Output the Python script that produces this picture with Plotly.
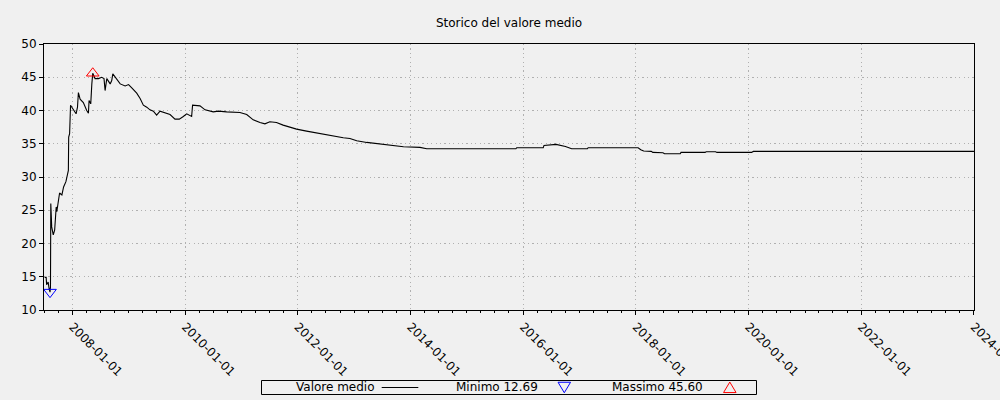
import numpy as np
import plotly.graph_objects as go

# ---------------- data ----------------
dates = [
    "2007-07-05", "2007-07-15", "2007-07-18", "2007-07-28", "2007-08-03", "2007-08-09",
    "2007-08-12", "2007-08-14", "2007-08-20", "2007-08-30", "2007-09-08", "2007-09-12",
    "2007-09-18", "2007-09-22", "2007-10-04", "2007-10-10", "2007-10-25", "2007-11-05",
    "2007-11-20", "2007-12-01", "2007-12-06", "2007-12-08", "2007-12-14", "2007-12-20",
    "2008-01-05", "2008-01-25", "2008-02-03", "2008-02-09", "2008-02-20", "2008-03-12",
    "2008-04-03", "2008-04-14", "2008-04-18", "2008-04-29", "2008-05-06", "2008-05-12",
    "2008-05-27", "2008-06-18", "2008-07-09", "2008-07-24", "2008-07-31", "2008-08-11",
    "2008-09-02", "2008-09-12", "2008-09-19", "2008-10-04", "2008-11-06", "2008-12-08",
    "2008-12-30", "2009-01-20", "2009-02-21", "2009-03-15", "2009-04-05", "2009-04-27",
    "2009-05-18", "2009-06-09", "2009-06-30", "2009-07-22", "2009-08-23", "2009-09-25",
    "2009-10-27", "2009-11-24", "2009-12-20", "2010-01-11", "2010-02-12", "2010-02-18",
    "2010-04-07", "2010-05-10", "2010-07-02", "2010-08-04", "2010-09-27", "2010-12-22",
    "2011-02-04", "2011-03-18", "2011-05-01", "2011-06-02", "2011-07-04", "2011-08-16",
    "2011-09-28", "2011-11-10", "2011-12-24", "2012-02-27", "2012-04-10", "2012-06-14",
    "2012-08-18", "2012-10-22", "2012-12-04", "2013-01-17", "2013-03-23", "2013-05-27",
    "2013-07-31", "2013-10-03", "2013-11-16", "2014-03-03", "2014-04-16", "2015-11-15",
    "2015-11-20", "2016-05-10", "2016-05-15", "2016-08-01", "2016-09-10", "2016-10-01",
    "2016-11-10", "2017-02-20", "2017-02-25", "2018-01-15", "2018-02-01", "2018-02-20",
    "2018-04-10", "2018-04-20", "2018-06-25", "2018-07-05", "2018-10-15", "2018-10-20",
    "2019-03-25", "2019-04-01", "2019-06-01", "2019-06-10", "2020-01-20", "2020-02-01",
    "2024-01-01",
]
valori = [
    14.9, 14.9, 13.8, 14.2, 13.2, 12.69,
    13.5, 26.0, 22.5, 21.3, 22.0, 24.5,
    25.5, 24.8, 26.5, 27.6, 27.3, 28.5,
    29.3, 30.6, 31.0, 36.0, 36.5, 40.8,
    40.2, 39.5, 40.5, 42.7, 41.7, 41.2,
    40.0, 39.6, 41.5, 41.0, 44.0, 45.60,
    44.8, 44.8, 45.0, 44.8, 43.0, 44.8,
    44.0, 44.5, 45.5, 45.0, 44.0, 43.7,
    43.9, 43.4, 42.6, 41.8, 40.8, 40.5,
    40.1, 39.9, 39.3, 39.9, 39.7, 39.4,
    38.7, 38.7, 39.1, 39.5, 39.1, 40.8,
    40.7, 40.1, 39.8, 39.9, 39.8, 39.7,
    39.4, 38.6, 38.2, 38.0, 38.3, 38.2,
    37.8, 37.5, 37.2, 36.9, 36.7, 36.5,
    36.2, 35.9, 35.8, 35.45, 35.2, 35.0,
    34.85, 34.7, 34.55, 34.45, 34.25, 34.25,
    34.4, 34.4, 34.75, 34.9, 34.75, 34.6,
    34.25, 34.25, 34.4, 34.4, 34.1, 33.9,
    33.85, 33.7, 33.65, 33.5, 33.5, 33.7,
    33.7, 33.8, 33.8, 33.7, 33.7, 33.85,
    33.85,
]
y_ticks = [10, 15, 20, 25, 30, 35, 40, 45, 50]
x_ticks = ["2008-01-01", "2010-01-01", "2012-01-01", "2014-01-01", "2016-01-01",
           "2018-01-01", "2020-01-01", "2022-01-01", "2024-01-01"]
x_range = ["2007-07-01", "2024-01-01 02:00"]
title = "Storico del valore medio"
serie_nome = "Valore medio"

arr = np.array(valori)
i_min = int(np.argmin(arr))
i_max = int(np.argmax(arr))

# ---------------- figure ----------------
W, H = 1000, 400
L, R, T, B = 44, 974, 44, 310
BG = "#f0f0f0"
FONT = "DejaVu Sans"
GRID = "#b0b0b0"


def px(x):
    return (x - L) / (R - L)


def py(y):
    return (B - y) / (B - T)


fig = go.Figure()
fig.add_trace(go.Scatter(x=dates, y=valori, mode="lines", name=serie_nome,
                         line=dict(color="black", width=1.1), showlegend=False))
fig.add_trace(go.Scatter(x=[dates[i_min]], y=[valori[i_min]], mode="markers",
                         name=f"Minimo {valori[i_min]:.2f}", showlegend=False,
                         marker=dict(symbol="triangle-down-open", size=11,
                                     color="blue", line=dict(width=1, color="blue"))))
fig.add_trace(go.Scatter(x=[dates[i_max]], y=[valori[i_max]], mode="markers",
                         name=f"Massimo {valori[i_max]:.2f}", showlegend=False,
                         marker=dict(symbol="triangle-up-open", size=11,
                                     color="red", line=dict(width=1, color="red"))))

shapes = []
annotations = []

# custom legend (text first, then symbol)
shapes.append(dict(type="rect", xref="paper", yref="paper",
                   x0=px(261.5), x1=px(756.5), y0=py(380.5), y1=py(394.5),
                   line=dict(color="black", width=1), fillcolor=BG, layer="above"))
ly = 387.3
annotations.append(dict(text=serie_nome, xref="paper", yref="paper", x=px(335), y=py(ly),
                        showarrow=False, xanchor="center", yanchor="middle",
                        font=dict(family=FONT, size=12, color="black")))
shapes.append(dict(type="line", xref="paper", yref="paper",
                   x0=px(381.7), x1=px(418.3), y0=py(387.5), y1=py(387.5),
                   line=dict(color="black", width=1.1)))
annotations.append(dict(text=f"Minimo {valori[i_min]:.2f}", xref="paper", yref="paper",
                        x=px(496.5), y=py(ly), showarrow=False, xanchor="center",
                        yanchor="middle", font=dict(family=FONT, size=12, color="black")))
annotations.append(dict(text=f"Massimo {valori[i_max]:.2f}", xref="paper", yref="paper",
                        x=px(657.7), y=py(ly), showarrow=False, xanchor="center",
                        yanchor="middle", font=dict(family=FONT, size=12, color="black")))


def tri_path(cx, cy, w, h, down):
    if down:
        pts = [(cx - w / 2, cy - h / 2), (cx + w / 2, cy - h / 2), (cx, cy + h / 2)]
    else:
        pts = [(cx - w / 2, cy + h / 2), (cx + w / 2, cy + h / 2), (cx, cy - h / 2)]
    return "M " + " L ".join(f"{px(a):.5f},{py(b):.5f}" for a, b in pts) + " Z"


shapes.append(dict(type="path", xref="paper", yref="paper",
                   path=tri_path(564.3, 387.5, 12.5, 10.5, True),
                   line=dict(color="blue", width=1)))
shapes.append(dict(type="path", xref="paper", yref="paper",
                   path=tri_path(729.8, 387.3, 12.5, 10.5, False),
                   line=dict(color="red", width=1)))

fig.update_layout(
    width=W, height=H,
    margin=dict(l=L, r=W - R, t=T, b=H - B, pad=0),
    paper_bgcolor=BG, plot_bgcolor=BG,
    font=dict(family=FONT, size=12, color="black"),
    title=dict(text=title, x=0.5, xref="paper", xanchor="center",
               y=1 - 22.5 / H, yref="container", yanchor="middle",
               font=dict(family=FONT, size=12, color="black")),
    showlegend=False,
    shapes=shapes,
    annotations=annotations,
    xaxis=dict(
        type="date", range=x_range, tickmode="array", tickvals=x_ticks,
        ticktext=x_ticks, tickangle=45, ticklabeloverflow="allow",
        ticks="outside", ticklen=4, tickwidth=1, tickcolor="black",
        showline=True, linecolor="black", linewidth=1, mirror=True,
        showgrid=True, gridcolor=GRID, griddash="1.2px,3.2px", gridwidth=1,
        zeroline=False, automargin=False,
        tickfont=dict(family=FONT, size=12, color="black"),
        minor=dict(dtick="M3", tick0="2007-07-01", ticks="outside", ticklen=2,
                   tickcolor="black", tickwidth=1, showgrid=False),
    ),
    yaxis=dict(
        range=[10, 50], tickmode="array", tickvals=y_ticks,
        ticks="outside", ticklen=4, tickwidth=1, tickcolor="black",
        showline=True, linecolor="black", linewidth=1, mirror=True,
        showgrid=True, gridcolor=GRID, griddash="1.2px,3.2px", gridwidth=1,
        zeroline=False, automargin=False,
        tickfont=dict(family=FONT, size=12, color="black"),
    ),
)

fig.write_html("out.html")
